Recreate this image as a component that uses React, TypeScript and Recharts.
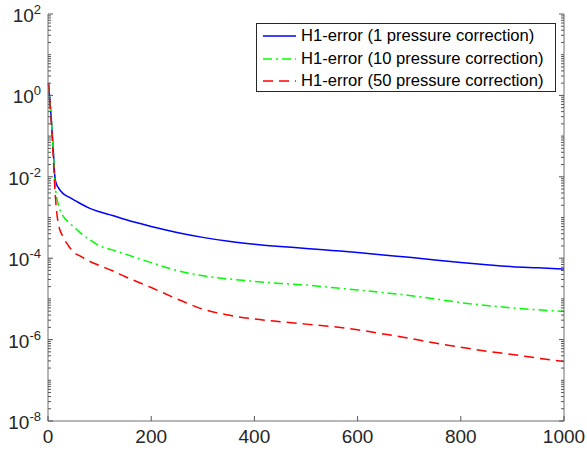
import { LineChart, Line, XAxis, YAxis, Legend } from 'recharts';

// iteration number
const ITERATIONS = [
  1, 3, 5, 7, 9, 11, 13, 15, 20, 30, 40, 50, 60, 80, 100, 125, 150,
  200, 250, 300, 350, 400, 450, 500, 550, 600, 650, 700, 750, 800, 850, 900, 950, 1000,
];

// H1-error, 1 pressure correction
const ERR_P1 = [
  2.0, 0.9, 0.45, 0.2, 0.08, 0.03, 0.011, 0.0075, 0.0054, 0.0038, 0.0032, 0.0027, 0.0023, 0.0017, 0.00138, 0.00112, 8.9e-4,
  6.0e-4, 4.3e-4, 3.25e-4, 2.6e-4, 2.2e-4, 1.93e-4, 1.74e-4, 1.55e-4, 1.38e-4, 1.2e-4, 1.05e-4, 9.0e-5, 7.8e-5, 6.9e-5, 6.2e-5, 5.8e-5, 5.4e-5,
];

// H1-error, 10 pressure corrections
const ERR_P10 = [
  2.0, 0.9, 0.45, 0.2, 0.08, 0.03, 0.009, 0.0045, 0.0021, 0.00105, 7.6e-4, 5.9e-4, 4.5e-4, 2.9e-4, 2.0e-4, 1.6e-4, 1.26e-4,
  7.8e-5, 5.0e-5, 3.7e-5, 3.1e-5, 2.7e-5, 2.4e-5, 2.2e-5, 1.9e-5, 1.66e-5, 1.43e-5, 1.22e-5, 1.0e-5, 8.1e-6, 6.9e-6, 6.0e-6, 5.4e-6, 4.9e-6,
];

// H1-error, 50 pressure corrections
const ERR_P50 = [
  2.0, 0.9, 0.42, 0.17, 0.06, 0.02, 0.006, 0.0025, 7.0e-4, 3.2e-4, 2.0e-4, 1.4e-4, 1.17e-4, 8.5e-5, 6.6e-5, 4.9e-5, 3.5e-5,
  1.9e-5, 1.0e-5, 5.6e-6, 4.0e-6, 3.2e-6, 2.75e-6, 2.4e-6, 2.1e-6, 1.74e-6, 1.38e-6, 1.08e-6, 8.2e-7, 6.5e-7, 5.2e-7, 4.3e-7, 3.5e-7, 2.9e-7,
];

const X_TICKS = [0, 200, 400, 600, 800, 1000];
const Y_MAJOR_TICKS = [1e-8, 1e-6, 1e-4, 1e-2, 1, 1e2];
const Y_MAJOR_LABELS = ['-8', '-6', '-4', '-2', '0', '2'];

const SERIES = [
  { key: 'p1', name: 'H1-error (1 pressure correction)', color: '#0000ff', dash: undefined },
  { key: 'p10', name: 'H1-error (10 pressure correction)', color: '#00ff00', dash: '9 4 2 4' },
  { key: 'p50', name: 'H1-error (50 pressure correction)', color: '#ff0000', dash: '10 6' },
];

const data = ITERATIONS.map((it, i) => ({
  it,
  p1: ERR_P1[i],
  p10: ERR_P10[i],
  p50: ERR_P50[i],
}));

// minor ticks of the log axis: 1..9 x 10^e
const yAllTicks: number[] = [];
for (let e = -8; e < 2; e++) {
  for (let m = 1; m < 10; m++) yAllTicks.push(Number((m * Math.pow(10, e)).toPrecision(3)));
}
yAllTicks.push(100);

const W = 587;
const H = 450;
const PL = 48;
const PR = 564;
const PT = 14;
const PB = 421;
const AXIS = '#6f6f6f';
const TICK = '#555555';
const TXT = '#262626';
const FONT = '"Liberation Sans", Arial, sans-serif';

const majorIndex = (v: number) =>
  Y_MAJOR_TICKS.findIndex((t) => Math.abs(Math.log10(t) - Math.log10(v)) < 1e-6);

function YTickLeft(props: any) {
  const { y, payload } = props;
  const idx = majorIndex(payload.value);
  const len = idx >= 0 ? 5 : 3;
  return (
    <g>
      <line x1={PL} x2={PL + len} y1={y} y2={y} stroke={TICK} strokeWidth={1} />
      {idx >= 0 && (
        <text x={41} y={y + 8} textAnchor="end" fill={TXT} fontSize={19} fontFamily={FONT}>
          <tspan>10</tspan>
          <tspan dy={-8} fontSize={13}>
            {Y_MAJOR_LABELS[idx]}
          </tspan>
        </text>
      )}
    </g>
  );
}

function YTickRight(props: any) {
  const { y, payload } = props;
  const len = majorIndex(payload.value) >= 0 ? 5 : 3;
  return <line x1={PR} x2={PR - len} y1={y} y2={y} stroke={TICK} strokeWidth={1} />;
}

function XTickBottom(props: any) {
  const { x, payload } = props;
  return (
    <g>
      <line x1={x} x2={x} y1={PB} y2={PB - 5} stroke={TICK} strokeWidth={1} />
      <text x={x} y={PB + 22} textAnchor="middle" fill={TXT} fontSize={19} fontFamily={FONT}>
        {payload.value}
      </text>
    </g>
  );
}

function XTickTop(props: any) {
  const { x } = props;
  return <line x1={x} x2={x} y1={PT} y2={PT + 5} stroke={TICK} strokeWidth={1} />;
}

function LegendBox() {
  return (
    <div
      style={{
        border: `1px solid ${TXT}`,
        background: '#fff',
        width: 300,
        height: 69,
        boxSizing: 'border-box',
        paddingTop: 1,
        fontFamily: FONT,
        fontSize: 16.6,
        color: '#000',
      }}
    >
      {SERIES.map((s) => (
        <div key={s.key} style={{ display: 'flex', alignItems: 'center', height: 22.5 }}>
          <svg width={44} height={10} style={{ flex: 'none' }}>
            <line
              x1={6}
              x2={39}
              y1={5}
              y2={5}
              stroke={s.color}
              strokeWidth={1.5}
              strokeDasharray={s.dash}
            />
          </svg>
          <span style={{ whiteSpace: 'nowrap' }}>{s.name}</span>
        </div>
      ))}
    </div>
  );
}

export default function App() {
  return (
    <div style={{ position: 'absolute', left: 0, top: 0, width: W, height: H, background: '#fff' }}>
      <LineChart width={W} height={H} data={data} margin={{ top: PT, right: 0, bottom: 0, left: 0 }}>
        <XAxis
          xAxisId="bottom"
          dataKey="it"
          type="number"
          domain={[0, 1000]}
          ticks={X_TICKS}
          interval={0}
          height={H - PB}
          axisLine={{ stroke: AXIS, strokeWidth: 1 }}
          tickLine={false}
          tick={XTickBottom}
        />
        <XAxis
          xAxisId="top"
          orientation="top"
          dataKey="it"
          type="number"
          domain={[0, 1000]}
          ticks={X_TICKS}
          interval={0}
          height={0}
          axisLine={{ stroke: AXIS, strokeWidth: 1 }}
          tickLine={false}
          tick={XTickTop}
        />
        <YAxis
          yAxisId="left"
          type="number"
          scale="log"
          domain={[1e-8, 100]}
          ticks={yAllTicks}
          interval={0}
          width={PL}
          axisLine={{ stroke: AXIS, strokeWidth: 1 }}
          tickLine={false}
          tick={YTickLeft}
          allowDataOverflow
        />
        <YAxis
          yAxisId="right"
          orientation="right"
          type="number"
          scale="log"
          domain={[1e-8, 100]}
          ticks={yAllTicks}
          interval={0}
          width={W - PR}
          axisLine={{ stroke: AXIS, strokeWidth: 1 }}
          tickLine={false}
          tick={YTickRight}
          allowDataOverflow
        />
        {SERIES.map((s) => (
          <Line
            key={s.key}
            xAxisId="bottom"
            yAxisId="left"
            dataKey={s.key}
            name={s.name}
            type="monotone"
            stroke={s.color}
            strokeWidth={1.5}
            strokeDasharray={s.dash}
            dot={false}
            activeDot={false}
            isAnimationActive={false}
          />
        ))}
        <Legend
          layout="vertical"
          align="center"
          verticalAlign="middle"
          wrapperStyle={{ left: 256, top: 23, width: 300 }}
          content={() => <LegendBox />}
        />
      </LineChart>
    </div>
  );
}
